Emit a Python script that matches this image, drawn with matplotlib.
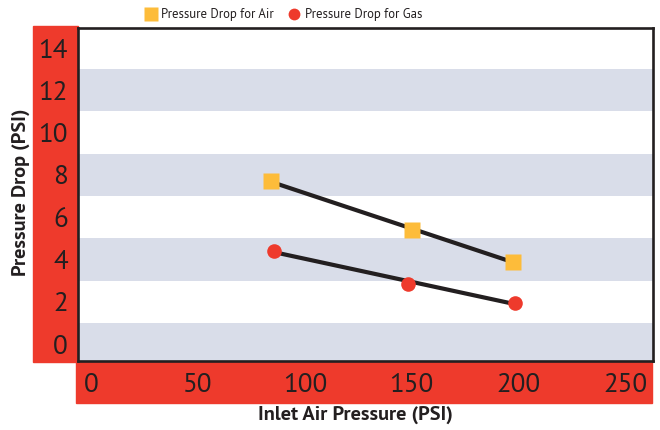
import numpy as np
import matplotlib
matplotlib.use("Agg")
import matplotlib.pyplot as plt
from matplotlib.patches import Rectangle
from matplotlib.lines import Line2D

plt.rcParams["font.family"] = ["PT Sans", "DejaVu Sans"]

# Data
air_inlet = [84, 150, 197.5]
air_drop = [7.7, 5.4, 3.9]
gas_inlet = [85.5, 148.5, 198.5]
gas_drop = [4.4, 2.85, 1.95]
x_ticks = [0, 50, 100, 150, 200, 250]
y_ticks = [0, 2, 4, 6, 8, 10, 12, 14]
series_names = ["Pressure Drop for Air", "Pressure Drop for Gas"]

RED = "#EE3A2C"
AMBER = "#FDBC3A"
STRIPE = "#D9DDE9"
INK = "#231F20"

W, H = 660, 430
fig = plt.figure(figsize=(W / 100, H / 100), dpi=100)


def fig_box(x0, y0, x1, y1):
    """Pixel box (top-left origin) -> figure fraction [l, b, w, h]."""
    return [x0 / W, 1 - y1 / H, (x1 - x0) / W, (y1 - y0) / H]


# red panels behind the tick labels
for box in (fig_box(33, 26, 78, 362), fig_box(76, 360, 652, 403)):
    fig.patches.append(Rectangle((box[0], box[1]), box[2], box[3],
                                 transform=fig.transFigure, color=RED,
                                 zorder=-5))

ax = fig.add_axes(fig_box(77.5, 27.5, 653, 360.5))
ax.set_facecolor("white")
ax.set_xlim(-6.5, 263)
ax.set_ylim(-0.78, 14.97)

# alternating horizontal stripes
for c in (0, 4, 8, 12):
    ax.axhspan(c - 1, c + 1, color=STRIPE, lw=0, zorder=0)

# trend lines fitted to each series
for xs, ys in ((air_inlet, air_drop), (gas_inlet, gas_drop)):
    k, b = np.polyfit(xs, ys, 1)
    xx = np.array([min(xs), max(xs)])
    ax.plot(xx, k * xx + b, color=INK, lw=3.0, solid_capstyle="butt",
            zorder=2)

ax.plot(air_inlet, air_drop, ls="none", marker="s", ms=12, mfc=AMBER,
        mec="none", zorder=3)
ax.plot(gas_inlet, gas_drop, ls="none", marker="o", ms=10.5, mfc=RED,
        mec="none", zorder=3)

ax.set_xticks(x_ticks)
ax.set_yticks(y_ticks)
ax.tick_params(axis="both", length=0, labelsize=19.5, colors=INK)
ax.tick_params(axis="y", pad=7)
ax.tick_params(axis="x", pad=9)
for s in ax.spines.values():
    s.set_color(INK)
    s.set_linewidth(1.9)

fig.text(355 / W, 1 - 415 / H, "Inlet Air Pressure (PSI)", ha="center",
         va="center", fontsize=14.7, fontweight="bold", color=INK)
fig.text(21 / W, 1 - 192 / H, "Pressure Drop (PSI)", ha="center",
         va="center", rotation=90, fontsize=14.7, fontweight="bold",
         color=INK)

handles = [
    Line2D([], [], ls="none", marker="s", ms=9.5, mfc=AMBER, mec="none"),
    Line2D([], [], ls="none", marker="o", ms=8.5, mfc=RED, mec="none"),
]
fig.legend(handles, series_names, loc="center", ncol=2,
           bbox_to_anchor=(283.5 / W, 1 - 14.5 / H), frameon=False,
           fontsize=9.2, handlelength=0.9, handletextpad=0.4,
           columnspacing=1.1, labelcolor=INK, borderpad=0)

fig.savefig("out.png", dpi=100)
